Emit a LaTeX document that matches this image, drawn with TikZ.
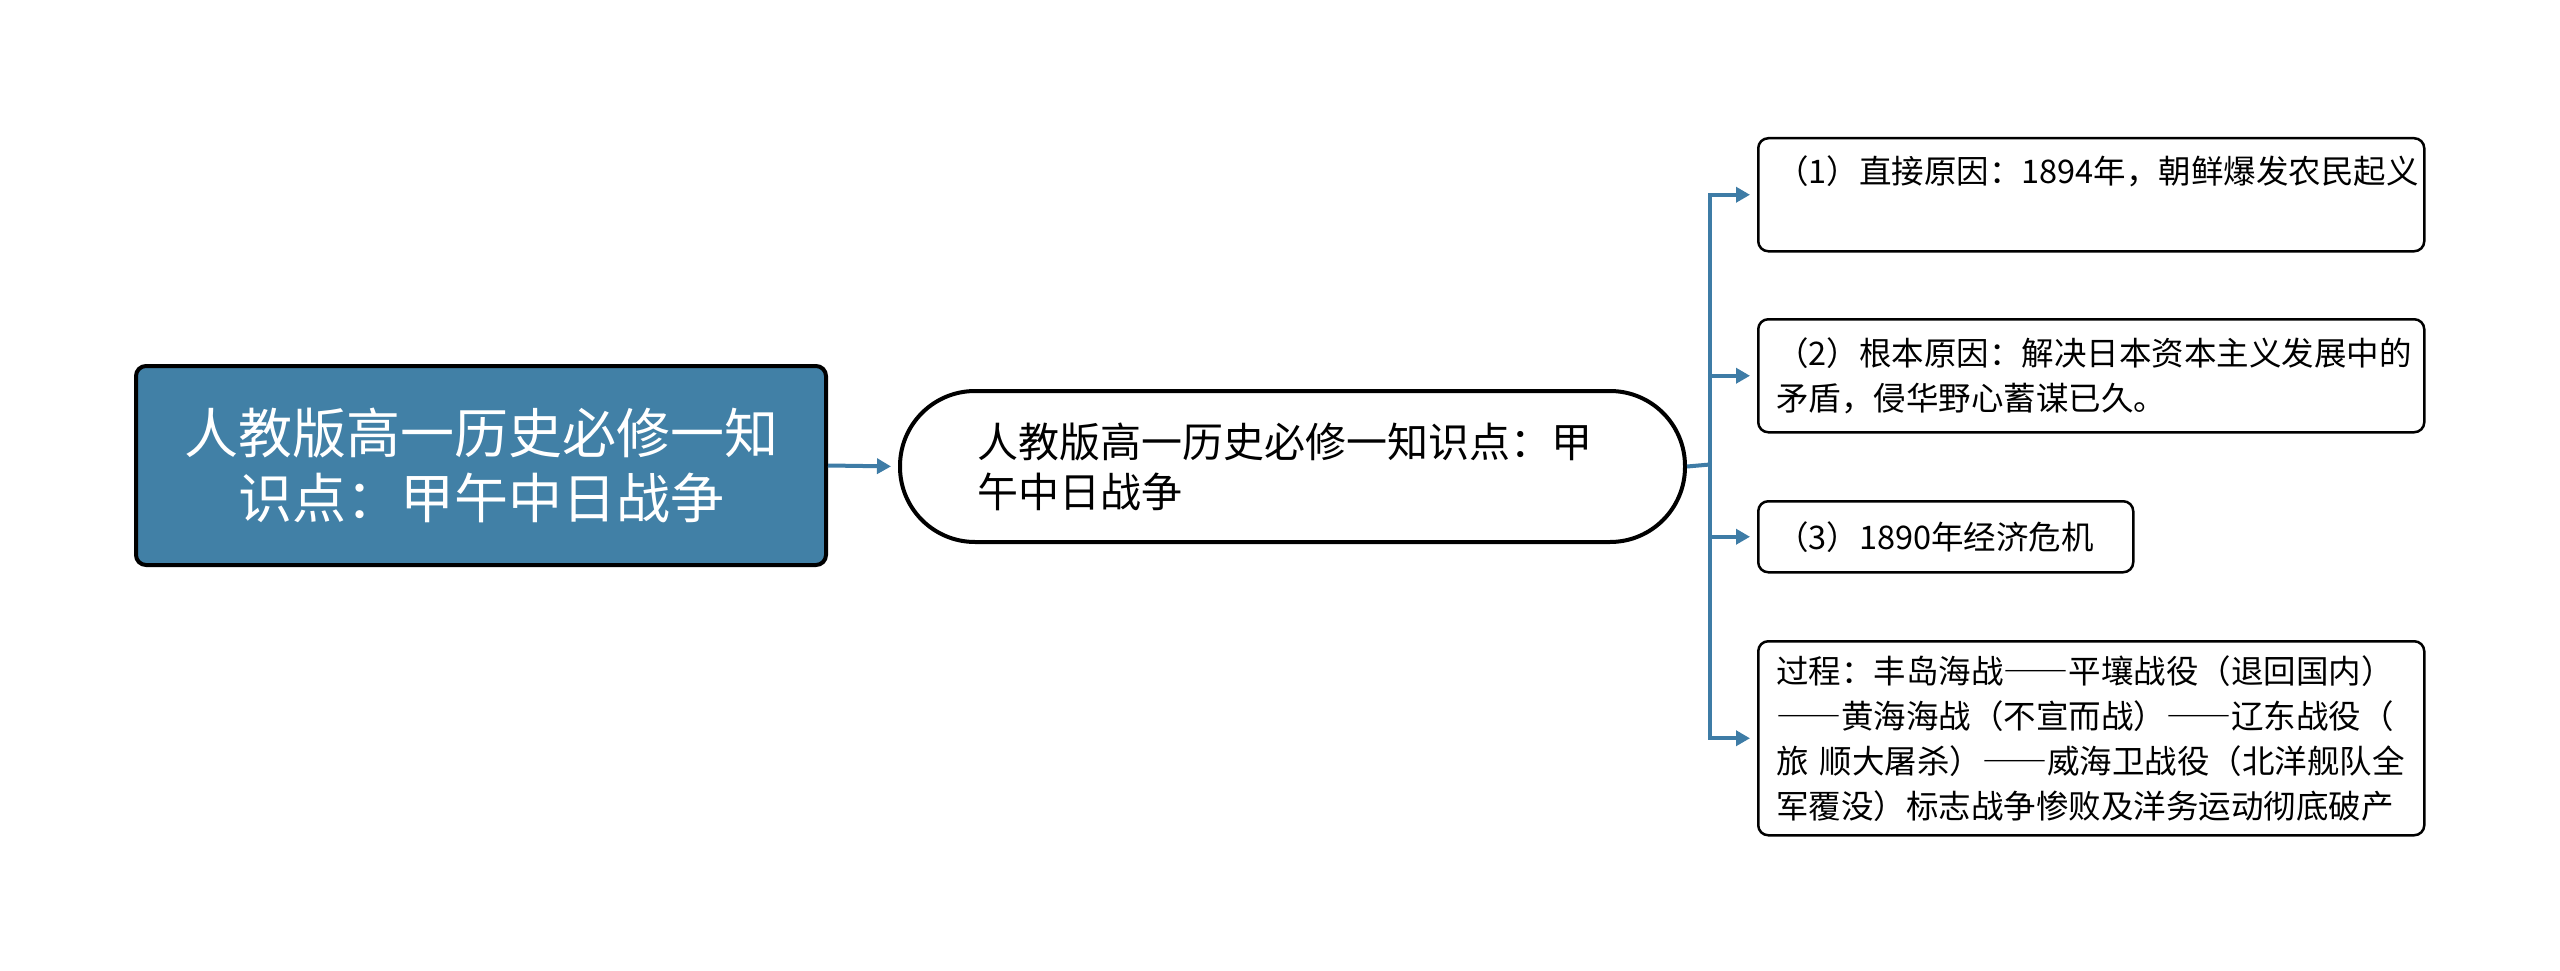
\documentclass[tikz,border=0pt]{standalone}
\usepackage{fontspec}
\newfontfamily\cjk{Noto Sans CJK SC}
\newfontfamily\cjkfw[RawFeature=+fwid]{Noto Sans CJK SC}
\newcommand{\dd}{{\cjkfw ——}}
\usetikzlibrary{arrows.meta}
\definecolor{rootblue}{RGB}{65,128,166}
\definecolor{linkblue}{RGB}{62,124,166}
\tikzset{
  x=1pt,y=-1pt,
  rootbox/.style={draw=black,line width=4pt,fill=rootblue,rounded corners=10pt,
    minimum width=690pt,minimum height=199pt,align=center,text=white,
    font=\cjk\fontsize{54}{65}\selectfont},
  midbox/.style={draw=black,line width=4pt,fill=white,rounded corners=75pt,
    minimum width=785pt,minimum height=151pt,inner xsep=77pt,inner ysep=0pt,
    text width=631pt,align=left,font=\cjk\fontsize{41}{50}\selectfont},
  leafbox/.style={draw=black,line width=2.5pt,fill=white,rounded corners=10pt,
    inner xsep=18pt,inner ysep=0pt,align=left,
    font=\cjk\fontsize{32.5}{45}\selectfont},
  link/.style={draw=linkblue,line width=4pt},
  linkarrow/.style={link,-{Triangle[length=14pt,width=15pt]},shorten >=7pt},
}
\begin{document}
\begin{tikzpicture}
\useasboundingbox[fill=white] (0,0) rectangle (2560,971);
\node[rootbox] (root) at (481,465.5) {人教版高一历史必修一知\\识点：甲午中日战争};
\node[midbox,anchor=north west] (mid) at (898,389) {人教版高一历史必修一知识点：甲\\午中日战争};
\node[leafbox,anchor=north west,minimum width=666pt,text width=630pt,text height=45pt,text depth=68pt] (b1) at (1757,137)
  {（1）直接原因：1894年，朝鲜爆发农民起义};
\node[leafbox,anchor=north west,minimum width=666pt,minimum height=113pt,text width=630pt] (b2) at (1757,318)
  {（2）根本原因：解决日本资本主义发展中的\\矛盾，侵华野心蓄谋已久。};
\node[leafbox,anchor=north west,minimum width=375pt,minimum height=71pt,text width=339pt] (b3) at (1757,500)
  {（3）1890年经济危机};
\node[leafbox,anchor=north west,minimum width=666pt,minimum height=194pt,text width=630pt] (b4) at (1757,640)
  {过程：丰岛海战\dd 平壤战役（退回国内）\\\dd 黄海海战（不宣而战）\dd 辽东战役（\\旅 顺大屠杀）\dd 威海卫战役（北洋舰队全\\军覆没）标志战争惨败及洋务运动彻底破产};
\coordinate (bus) at (1710,464.5);
\draw[linkarrow] (root.east) -- (mid.west);
\draw[link] (mid.east) -- (bus);
\draw[linkarrow] (bus) |- (b1.west);
\draw[linkarrow] (bus) |- (b2.west);
\draw[linkarrow] (bus) |- (b3.west);
\draw[linkarrow] (bus) |- (b4.west);
\end{tikzpicture}
\end{document}
